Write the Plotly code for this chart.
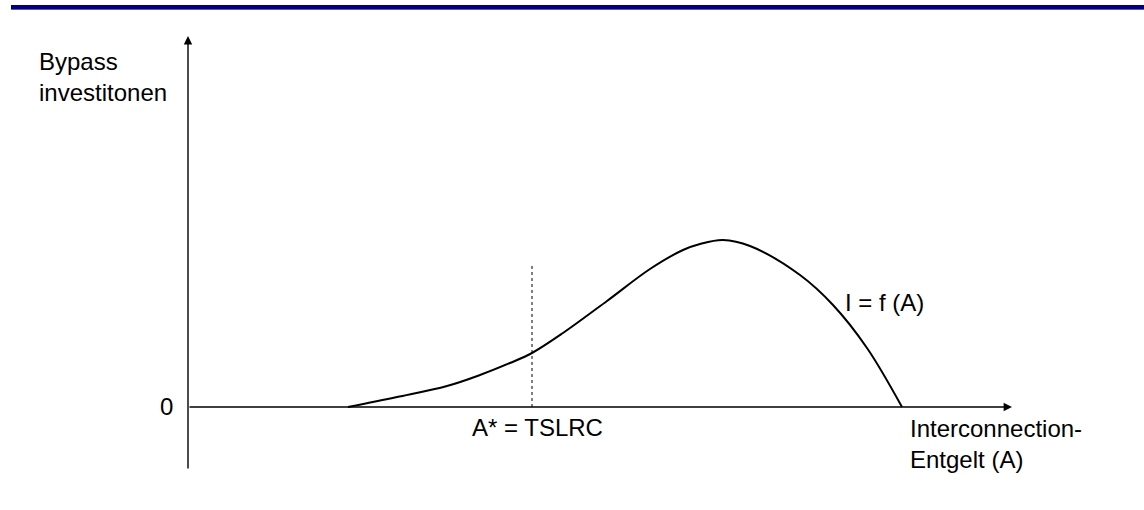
import plotly.graph_objects as go

# Curve I = f(A) (axis origin = 0,0)
A_VALUES = [1.60, 2.09, 2.59, 2.92, 3.22, 3.44, 3.75, 4.19, 4.62, 4.95, 5.12, 5.35, 5.62, 6.12, 6.45, 6.79, 7.14]
I_VALUES = [0.00, 0.10, 0.21, 0.32, 0.44, 0.54, 0.74, 1.06, 1.38, 1.57, 1.63, 1.67, 1.61, 1.32, 1.02, 0.59, 0.00]

A_STAR = 3.44          # A* = TSLRC
A_STAR_TOP = 1.42      # top of dotted marker line
X_AXIS_END = 8.24
Y_AXIS_TOP = 3.71
Y_AXIS_BOTTOM = -0.63

FONT = "Liberation Sans, Arial, sans-serif"
W, H = 1144, 510

fig = go.Figure()

fig.add_trace(go.Scatter(
    x=A_VALUES, y=I_VALUES, mode="lines",
    line=dict(color="black", width=2, shape="spline", smoothing=1.0),
    hoverinfo="skip", showlegend=False,
))

# dotted line at A*
fig.add_trace(go.Scatter(
    x=[A_STAR, A_STAR], y=[0, A_STAR_TOP], mode="lines",
    line=dict(color="black", width=1, dash="dot"),
    hoverinfo="skip", showlegend=False,
))

# axes with arrowheads
fig.add_annotation(x=X_AXIS_END, y=0, ax=0, ay=0,
                   xref="x", yref="y", axref="x", ayref="y", text="",
                   showarrow=True, arrowhead=2, arrowsize=1.2, arrowwidth=1.4,
                   arrowcolor="black", standoff=0)
fig.add_annotation(x=0, y=Y_AXIS_TOP, ax=0, ay=Y_AXIS_BOTTOM,
                   xref="x", yref="y", axref="x", ayref="y", text="",
                   showarrow=True, arrowhead=2, arrowsize=1.2, arrowwidth=1.4,
                   arrowcolor="black", standoff=0)

# blue rule at the top
fig.add_shape(type="rect", xref="paper", yref="paper",
              x0=11 / W, x1=1, y0=1 - 9 / H, y1=1 - 5 / H,
              fillcolor="#000080", line=dict(width=0), layer="above")
fig.add_shape(type="rect", xref="paper", yref="paper",
              x0=11 / W, x1=1, y0=1 - 10 / H, y1=1 - 9 / H,
              fillcolor="#5a5aa8", line=dict(width=0), layer="above")

labels = [
    ("Bypass<br>investitonen", -1.51, 3.30, "left"),
    ("0", -0.13, 0.01, "right"),
    ("A* = TSLRC", 2.82, -0.20, "left"),
    ("I = f (A)", 6.55, 1.05, "left"),
    ("Interconnection-<br>Entgelt (A)", 7.20, -0.37, "left"),
]
for text, x, y, anchor in labels:
    fig.add_annotation(x=x, y=y, xref="x", yref="y", text=text, showarrow=False,
                       xanchor=anchor, yanchor="middle", align="left",
                       font=dict(family=FONT, size=24, color="black"))

fig.update_layout(
    width=W, height=H,
    margin=dict(l=0, r=0, t=0, b=0),
    paper_bgcolor="white", plot_bgcolor="white",
    xaxis=dict(range=[-1.88, 9.56], visible=False, fixedrange=True),
    yaxis=dict(range=[-1.03, 4.07], visible=False, fixedrange=True),
    showlegend=False,
)

fig.write_html("out.html", config={"displayModeBar": False},
               post_script="document.body.style.margin = '0';")
